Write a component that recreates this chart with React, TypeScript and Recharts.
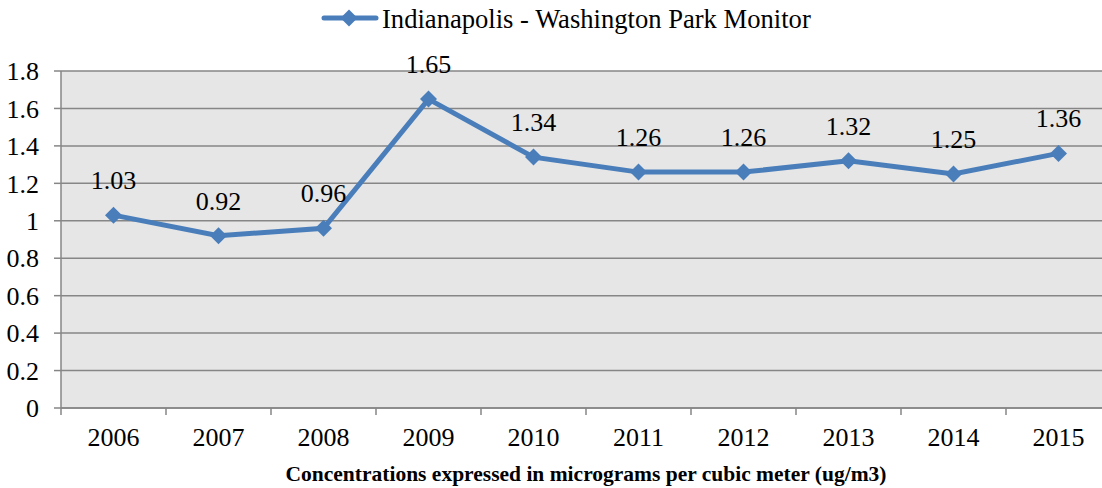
import React from 'react';
import { LineChart, Line, XAxis, YAxis, CartesianGrid, Legend, LabelList } from 'recharts';

// Annual concentrations at the Washington Park monitor (ug/m3)
const years = ['2006', '2007', '2008', '2009', '2010', '2011', '2012', '2013', '2014', '2015'];
const concentrations = [1.03, 0.92, 0.96, 1.65, 1.34, 1.26, 1.26, 1.32, 1.25, 1.36];
const yTicks = [0, 0.2, 0.4, 0.6, 0.8, 1, 1.2, 1.4, 1.6, 1.8];
const seriesName = 'Indianapolis - Washington Park Monitor';
const axisTitle = 'Concentrations expressed in micrograms per cubic meter (ug/m3)';

const rows = years.map((year, i) => ({ year, value: concentrations[i] }));

const SERIF = '"Liberation Serif", "Times New Roman", serif';
const BLUE = '#4a7ebb';
const GRID = '#868686';
const TICK_SIZE = 7;
const X_TICK_MARGIN = 13;

const Diamond = (props: any) => {
  const { cx, cy } = props;
  if (cx == null || cy == null) return null;
  const r = 8.5;
  return (
    <path
      d={`M${cx},${cy - r}L${cx + r},${cy}L${cx},${cy + r}L${cx - r},${cy}Z`}
      fill={BLUE}
      stroke="none"
    />
  );
};

// Category label centred in its band, with tick marks on the band boundaries
const YearTick = (props: any) => {
  const { x, y, payload, index, visibleTicksCount } = props;
  const half = payload && typeof payload.offset === 'number' ? payload.offset : 52.5;
  const axisY = y - X_TICK_MARGIN - TICK_SIZE;
  const last = index === (visibleTicksCount ?? years.length) - 1;
  return (
    <g>
      <line x1={x - half} x2={x - half} y1={axisY} y2={axisY + TICK_SIZE} stroke={GRID} strokeWidth={1.5} />
      {last && (
        <line x1={x + half} x2={x + half} y1={axisY} y2={axisY + TICK_SIZE} stroke={GRID} strokeWidth={1.5} />
      )}
      <text x={x} y={y} dy="0.71em" textAnchor="middle" fontFamily={SERIF} fontSize={26} fill="#000">
        {payload.value}
      </text>
    </g>
  );
};

const LegendContent = () => (
  <svg width={1111} height={40} style={{ display: 'block' }}>
    <line x1={324} x2={376} y1={18} y2={18} stroke={BLUE} strokeWidth={5} strokeLinecap="round" />
    <path d="M349,9.5L357.5,18L349,26.5L340.5,18Z" fill={BLUE} />
    <text x={382} y={28} fontFamily={SERIF} fontSize={26.6} fill="#000">
      {seriesName}
    </text>
  </svg>
);

export default function App() {
  return (
    <div style={{ position: 'absolute', left: 0, top: 0, width: 1102, height: 488, overflow: 'hidden', background: '#fff' }}>
      <LineChart width={1111} height={488} data={rows} margin={{ top: 31, right: 0, bottom: 40, left: 0 }}>
        <Legend
          verticalAlign="top"
          align="left"
          height={40}
          content={<LegendContent />}
          wrapperStyle={{ left: 0, top: 0, width: 1111, height: 40 }}
        />
        <CartesianGrid vertical={false} fill="#e6e6e6" stroke={GRID} strokeWidth={1.5} />
        <XAxis
          dataKey="year"
          scale="band"
          height={40}
          tickLine={false}
          tickSize={TICK_SIZE}
          tickMargin={X_TICK_MARGIN}
          axisLine={{ stroke: GRID, strokeWidth: 1.5 }}
          tick={<YearTick />}
          interval={0}
          label={{
            value: axisTitle,
            position: 'bottom',
            offset: 18,
            style: { fontFamily: SERIF, fontSize: 21.5, fontWeight: 'bold', fill: '#000' },
          }}
        />
        <YAxis
          width={61}
          domain={[0, 1.8]}
          ticks={yTicks}
          interval={0}
          tickSize={TICK_SIZE}
          tickMargin={15}
          axisLine={{ stroke: GRID, strokeWidth: 1.5 }}
          tickLine={{ stroke: GRID, strokeWidth: 1.5 }}
          tick={{ fontFamily: SERIF, fontSize: 26, fill: '#000' }}
        />
        <Line
          dataKey="value"
          name={seriesName}
          stroke={BLUE}
          strokeWidth={5}
          dot={<Diamond />}
          activeDot={false}
          isAnimationActive={false}
        >
          <LabelList
            dataKey="value"
            position="top"
            offset={26}
            style={{ fontFamily: SERIF, fontSize: 26, fill: '#000' }}
          />
        </Line>
      </LineChart>
    </div>
  );
}
